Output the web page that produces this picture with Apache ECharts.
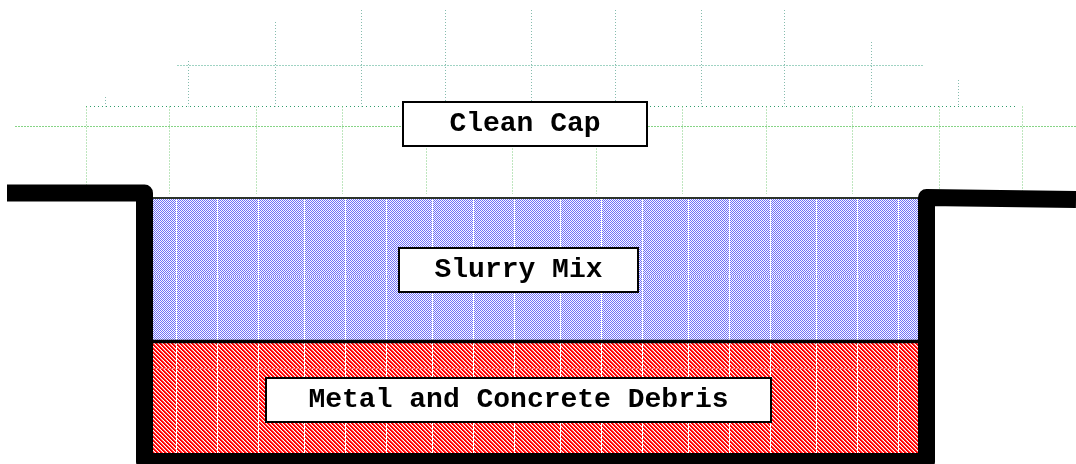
<!DOCTYPE html>
<html>
<head>
<meta charset="utf-8">
<title>Trench cross-section</title>
<script src="https://cdn.jsdelivr.net/npm/echarts@6.0.0/dist/echarts.min.js"></script>
<style>
    html, body { margin: 0; padding: 0; background: #fff; }
    #main { width: 1076px; height: 464px; }
</style>
</head>
<body>
<div id="main"></div>
<script type="text/javascript">
// section coordinates: x = distance along section, y = depth (down is positive)

// trench outline (ground surface, walls, floor)
var trenchX = [7, 144.5, 144.5, 926.5, 926.5, 1076];
var trenchY = [193, 193, 461.5, 461.5, 197.5, 199.5];

// fill layers inside the trench
var layerNames  = ['Slurry Mix', 'Metal and Concrete Debris'];
var layerLeft   = [153, 153];
var layerRight  = [918, 918];
var layerTop    = [197, 341.5];
var layerBottom = [341.5, 453];

// boundaries on top of each layer
var boundaryY = [198, 341.5];

// clean cap mound (dotted grid)
var capRowY    = [65.5, 106.5, 126.5];
var capRowFrom = [177, 86, 15];
var capRowTo   = [923, 1016, 1076];

var capUpperX   = [105.5, 188.5, 275.5, 361.5, 445.5, 531.5, 615.5, 701.5, 784.5, 871.5, 958.5];
var capUpperTop = [97, 61, 22, 10, 10, 10, 10, 10, 10, 42, 80];
var capUpperBase = 106.5;

var capLowerX   = [86.5, 169.5, 256.5, 342.5, 426.5, 512.5, 596.5, 682.5, 766.5, 852.5, 939.5, 1022.5];
var capLowerTop = 106.5;
var capLowerBase = 194;

// labels
var labelText = ['Clean Cap', 'Slurry Mix', 'Metal and Concrete Debris'];
var labelX = [525, 518.5, 518.5];
var labelY = [124, 270, 400];


// ---- hatch textures -------------------------------------------------
function makeTile(paint) {
    var w = 128, h = 92;
    var c = document.createElement('canvas');
    c.width = w; c.height = h;
    var ctx = c.getContext('2d');
    var img = ctx.createImageData(w, h);
    for (var y = 0; y < h; y++) {
        for (var x = 0; x < w; x++) {
            var col = paint(x, y);
            var k = (y * w + x) * 4;
            img.data[k] = col[0]; img.data[k + 1] = col[1]; img.data[k + 2] = col[2]; img.data[k + 3] = 255;
        }
    }
    ctx.putImageData(img, 0, 0);
    return c;
}
function isSeam(x) { return x == 2 || x == 48 || x == 89; }

var blueTile = makeTile(function (x, y) {
    if (isSeam(x)) return [255, 255, 255];
    if (y == 0) return [186, 186, 248];
    return (x + y) % 2 == 0 ? [112, 112, 248] : [250, 250, 255];
});
var redTile = makeTile(function (x, y) {
    if (isSeam(x)) return [255, 255, 255];
    if (y == 0) return [255, 110, 110];
    var m = (((x - y) % 4) + 4) % 4;
    if (m < 2) return [255, 0, 0];
    if (m == 2) return [255, 120, 120];
    return [255, 255, 255];
});
var layerFill = [
    { image: blueTile, repeat: 'repeat' },
    { image: redTile, repeat: 'repeat' }
];

// ---- series ---------------------------------------------------------
function seg(points, style, z) {
    return {
        type: 'line',
        silent: true,
        symbol: 'none',
        animation: false,
        z: z,
        data: points,
        lineStyle: style
    };
}

var series = [];

// clean cap rows
var rowStyles = [
    { color: '#9fd3c3', width: 1, type: [2, 1] },
    { color: '#2f9c6c', width: 1, type: [1, 3] },
    { color: '#86d486', width: 1, type: [2, 1] }
];
for (var i = 0; i < capRowY.length; i++) {
    series.push(seg([[capRowFrom[i], capRowY[i]], [capRowTo[i], capRowY[i]]], rowStyles[i], 1));
}
for (var i = 0; i < capUpperX.length; i++) {
    series.push(seg([[capUpperX[i], capUpperTop[i]], [capUpperX[i], capUpperBase]],
        { color: '#86bcae', width: 1, type: [1, 2] }, 1));
}
for (var i = 0; i < capLowerX.length; i++) {
    series.push(seg([[capLowerX[i], capLowerTop], [capLowerX[i], capLowerBase]],
        { color: '#7ccc7c', width: 1, type: [1, 2] }, 1));
}

// layer fills
series.push({
    type: 'custom',
    silent: true,
    z: 2,
    data: layerNames.map(function (n, i) {
        return { name: n, value: [layerLeft[i], layerRight[i], layerTop[i], layerBottom[i]] };
    }),
    renderItem: function (params, api) {
        var p0 = api.coord([api.value(0), api.value(2)]);
        var p1 = api.coord([api.value(1), api.value(3)]);
        return {
            type: 'rect',
            shape: { x: p0[0], y: Math.min(p0[1], p1[1]), width: p1[0] - p0[0], height: Math.abs(p1[1] - p0[1]) },
            style: { fill: layerFill[params.dataIndex] }
        };
    }
});

// layer boundaries
series.push(seg([[layerLeft[0], boundaryY[0]], [layerRight[0], boundaryY[0]]], { color: '#2b332b', width: 2 }, 3));
series.push(seg([[layerLeft[1], boundaryY[1]], [layerRight[1], boundaryY[1]]], { color: '#000', width: 3.5 }, 3));

// trench outline
series.push(seg(trenchX.map(function (x, i) { return [x, trenchY[i]]; }),
    { color: '#000', width: 17, join: 'round', cap: 'butt' }, 4));

// label boxes
var boxW = [244, 239, 505];
var boxH = [44, 44, 44];
series.push({
    type: 'scatter',
    silent: true,
    z: 10,
    symbolSize: 1,
    itemStyle: { color: 'transparent', opacity: 1 },
    data: labelText.map(function (t, i) {
        return { name: t, value: [labelX[i], labelY[i]], label: { width: boxW[i] - 2, height: boxH[i] - 2 } };
    }),
    label: {
        show: true,
        position: 'inside',
        formatter: '{b}',
        fontFamily: "'Courier New', 'Liberation Mono', monospace",
        fontWeight: 'bold',
        fontSize: 28,
        color: '#000',
        opacity: 1,
        backgroundColor: '#fff',
        borderColor: '#000',
        borderWidth: 2,
        align: 'center',
        verticalAlign: 'middle',
        lineHeight: 42
    }
});

var chart = echarts.init(document.getElementById('main'));
chart.setOption({
    animation: false,
    backgroundColor: '#fff',
    grid: { left: 0, right: 0, top: 0, bottom: 0 },
    xAxis: { type: 'value', min: 0, max: 1076, show: false },
    yAxis: { type: 'value', min: 0, max: 464, inverse: true, show: false },
    series: series
});
</script>
</body>
</html>
